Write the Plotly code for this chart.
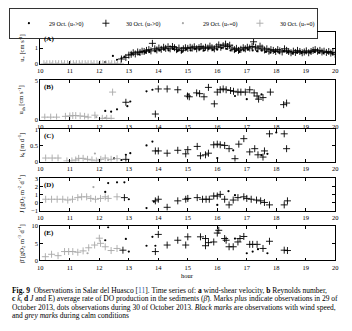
import plotly.graph_objects as go

W, H = 352, 331
FONT = "Liberation Serif"
BLACK = "#000000"
GREY = "#a8a8a8"

# ---------------- data (hour, value) ----------------
# Panel A : u* [cm s^-1]
A_dot_hr = [12.2, 12.46, 12.6, 12.75, 12.85, 13.1, 13.35, 13.55, 13.7, 13.9, 14.05, 14.2, 14.35, 14.5, 14.65, 14.8, 14.95,
            15.1, 15.25, 15.4, 15.55, 15.7, 15.85, 16.0, 16.15, 16.3, 16.45, 16.6, 16.75, 16.9, 17.05, 17.2, 17.35,
            17.5, 17.65, 17.8, 17.95, 18.1, 18.25, 18.4, 18.55, 18.7, 18.85, 19.0, 19.15, 19.3, 19.45, 19.6, 19.75, 19.9]
A_dot_val = [0.1, 0.5, 0.25, 0.35, 0.45, 0.65, 0.6, 0.7, 0.75, 0.8, 0.85, 0.9, 0.85, 0.95, 0.8, 0.75, 0.9,
             0.85, 0.95, 0.9, 0.85, 0.95, 0.88, 0.9, 1.0, 0.95, 0.85, 0.8, 0.75, 0.85, 0.9, 0.85, 0.8,
             0.85, 0.75, 0.7, 0.75, 0.7, 0.8, 0.72, 0.65, 0.7, 0.68, 0.72, 0.7, 0.75, 0.7, 0.68, 0.7, 0.65]
A_plus_hr = [12.75, 12.9, 13.0, 13.08, 13.15, 13.22, 13.3, 13.38, 13.45, 13.52, 13.6, 13.68, 13.75, 13.8, 13.88, 13.95,
             14.02, 14.1, 14.18, 14.25, 14.33, 14.4, 14.48, 14.55, 14.62, 14.7, 14.78, 14.85, 14.92, 15.0, 15.08,
             15.15, 15.22, 15.3, 15.38, 15.45, 15.52, 15.6, 15.68, 15.75, 15.82, 15.9, 15.98, 16.05, 16.12, 16.2,
             16.28, 16.35, 16.42, 16.5, 16.58, 16.65, 16.72, 16.8, 16.88, 16.95, 17.02, 17.1, 17.18, 17.23, 17.3,
             17.38, 17.45, 17.52, 17.6, 17.68, 17.75, 17.82, 17.9, 17.98, 18.05, 18.12, 18.2, 18.28, 18.35, 18.42,
             18.5, 18.58, 18.65, 18.72, 18.8, 18.88, 18.95, 19.02, 19.1, 19.18, 19.25, 19.32, 19.4, 19.48, 19.55,
             19.62, 19.7, 19.78, 19.85, 19.92, 20.0]
A_plus_val = [0.3, 0.4, 0.55, 0.6, 0.7, 0.62, 0.75, 0.72, 0.8, 0.78, 0.85, 0.9, 0.82, 1.3, 0.95, 0.88,
              1.0, 0.92, 1.05, 0.98, 1.08, 0.95, 1.1, 1.02, 0.9, 1.0, 0.85, 0.95, 1.02, 0.98, 1.05,
              1.0, 1.08, 0.95, 1.02, 1.1, 0.98, 1.05, 1.0, 1.12, 1.02, 0.95, 1.08, 1.2, 1.05, 1.15,
              1.25, 1.1, 1.18, 1.0, 0.9, 0.98, 0.85, 0.92, 1.02, 0.95, 1.05, 1.0, 1.1, 1.4, 1.05,
              0.95, 1.12, 1.0, 0.88, 0.95, 0.8, 0.9, 0.85, 0.78, 0.9, 0.82, 0.75, 0.95, 0.85, 0.78,
              0.7, 0.8, 0.72, 0.85, 0.78, 0.7, 0.75, 0.82, 0.7, 0.78, 0.85, 0.9, 0.8, 0.85, 0.75,
              0.8, 0.72, 0.78, 0.68, 0.72, 0.6]
A_gdot_hr = [10.17, 10.37, 10.57, 10.77, 10.97, 11.17, 11.37, 11.57, 11.77, 11.97, 12.17, 12.37, 12.57]
A_gdot_val = [0, 0, 0, 0, 0, 0, 0, 0, 0, 0, 0, 0, 0]
A_gplus_hr = [10.12, 10.22, 10.32, 10.42, 10.52, 10.62, 10.72, 10.82, 10.92, 11.02, 11.12, 11.22, 11.32, 11.42,
              11.52, 11.62, 11.72, 11.82, 11.92, 12.02, 12.12, 12.22, 12.32, 12.42, 12.52, 12.62, 12.72]
A_gplus_val = [0, 0, 0, 0, 0, 0, 0, 0, 0, 0, 0, 0, 0, 0, 0, 0, 0, 0, 0, 0, 0, 0, 0, 0, 0, 0, 0]

# Panel B : u_sh [cm s^-1]
B_dot_hr = [12.2, 12.4, 12.6, 12.95, 13.05, 13.6, 13.8, 15.0, 16.6, 17.0, 17.5]
B_dot_val = [1.1, 1.0, 1.3, 1.7, 2.3, 3.6, 3.8, 3.2, 3.0, 2.6, 3.2]
B_plus_hr = [12.9, 13.9, 14.0, 14.3, 14.66, 14.99, 15.05, 15.3, 15.4, 15.55, 15.7, 15.9, 16.0, 16.1, 16.2, 16.3,
             16.45, 16.55, 16.7, 16.8, 16.95, 17.1, 17.25, 17.35, 17.4, 17.55, 17.8, 18.25, 18.35]
B_plus_val = [2.2, 0.7, 3.9, 3.9, 3.8, 3.0, 2.9, 3.4, 3.3, 2.9, 4.1, 2.0, 3.5, 3.8, 3.9, 3.8,
              3.7, 3.6, 3.5, 3.5, 3.5, 3.8, 3.4, 3.0, 2.6, 2.8, 3.5, 1.9, 2.1]
B_gdot_hr = [11.9, 12.2]
B_gdot_val = [0.3, 0.2]
B_gplus_hr = [10.15, 10.35, 10.55, 10.85, 11.0, 11.1, 11.2, 11.35, 11.5, 11.62, 11.85, 12.1, 12.25, 12.4, 12.45]
B_gplus_val = [0.3, 0.3, 0.3, 0.4, 0.45, 0.5, 0.5, 0.45, 0.4, 0.3, 0.55, 0.15, 0.15, 0.15, 3.5]

# Panel C : k_t [m d^-1]
C_dot_hr = [12.5, 12.75, 12.9, 13.05, 13.6, 13.8, 16.0, 16.54, 17.5, 17.7, 18.0]
C_dot_val = [0.1, 0.05, 0.21, 0.26, 0.5, 0.62, 0.11, 0.35, 0.2, 0.24, 0.9]
C_plus_hr = [12.9, 13.9, 14.0, 14.3, 14.66, 14.93, 15.0, 15.32, 15.43, 15.6, 15.7, 15.88, 16.0, 16.1, 16.25,
             16.4, 16.6, 16.73, 16.9, 17.1, 17.27, 17.38, 17.55, 17.6, 17.77, 18.27, 18.35]
C_plus_val = [0.07, 0.33, 0.33, 0.26, 0.35, 0.24, 0.37, 0.47, 0.18, 0.21, 0.26, 0.52, 0.54, 0.52, 0.5,
              0.4, 0.09, 0.54, 0.71, 0.3, 0.4, 0.21, 0.14, 0.33, 0.86, 0.86, 0.4]
C_gdot_hr = [11.85, 12.3]
C_gdot_val = [0.25, 0.05]
C_gplus_hr = [10.18, 10.4, 10.6, 10.9, 11.07, 11.2, 11.3, 11.45, 11.6, 11.75, 11.9, 12.05, 12.2, 12.4, 12.6]
C_gplus_val = [0.11, 0.11, 0.11, 0.02, 0.02, 0.05, 0.1, 0.1, 0.07, 0.05, 0.02, 0.07, 0.11, 0.07, 0.09]

# Panel D : J [gO2 m^-2 d^-1]
D_dot_hr = [12.2, 12.3, 12.6, 12.85, 13.0, 13.6, 13.85, 16.0, 16.38, 16.6]
D_dot_val = [1.3, 2.4, 2.5, 2.5, 0.4, -0.7, 0.1, -0.3, 1.4, 0.9]
D_plus_hr = [12.85, 13.9, 14.0, 14.3, 14.66, 14.93, 15.0, 15.32, 15.5, 15.62, 15.73, 15.88, 16.0, 16.1, 16.25,
             16.4, 16.54, 16.7, 16.9, 17.0, 17.15, 17.33, 17.47, 17.6, 17.77, 18.27, 18.38]
D_plus_val = [0.6, 0.2, 0.4, -0.6, 0.2, 0.4, 0.5, 0.6, 0.4, 0.4, 0.4, 0.8, 0.8, 1.0, 0.4,
              -0.3, 0.3, 0.6, 0.7, 0.5, 0.4, 0.3, 0.2, 0.0, -0.3, -0.3, 0.2]
D_gdot_hr = [11.8]
D_gdot_val = [1.9]
D_gplus_hr = [10.18, 10.38, 10.57, 10.76, 10.93, 11.09, 11.27, 11.4, 11.57, 11.71, 11.87, 12.04, 12.2, 12.3, 12.6]
D_gplus_val = [0.4, 0.4, 0.4, 0.4, 0.3, 0.4, 0.6, 0.7, 0.7, 0.5, 0.4, 0.5, 0.7, 0.5, 0.7]

# Panel E : beta [gO2 m^-3 d^-1]
E_dot_hr = [12.2, 12.3, 12.9, 13.0, 13.6, 13.8, 13.9, 16.6, 17.0, 17.2, 17.38, 17.7]
E_dot_val = [5.9, 9.7, 6.3, 2.6, 4.3, 6.9, 4.3, 6.4, 2.1, 2.6, 3.3, 2.1]
E_plus_hr = [12.8, 13.9, 14.0, 14.3, 14.66, 14.93, 15.0, 15.43, 15.6, 15.6, 15.7, 15.88, 16.0, 16.05, 16.25,
             16.3, 16.4, 16.54, 16.7, 16.77, 16.9, 17.1, 17.2, 17.35, 17.55, 17.77, 18.27, 18.38]
E_plus_val = [3.0, 2.6, 7.6, 4.5, 5.9, 4.5, 6.9, 6.9, 6.4, 4.3, 5.2, 5.4, 8.0, 8.8, 6.4,
              5.9, 4.0, 4.0, 5.4, 6.4, 7.0, 4.7, 4.7, 4.7, 3.5, 5.6, 3.0, 2.9]
E_gdot_hr = [11.6]
E_gdot_val = [2.1]
E_gplus_hr = [10.17, 10.38, 10.6, 10.82, 10.96, 11.1, 11.27, 11.45, 11.64, 11.84, 12.0, 12.04, 12.2, 12.4, 12.6]
E_gplus_val = [1.1, 1.8, 1.4, 2.6, 2.6, 2.6, 2.4, 2.8, 3.7, 4.5, 6.5, 5.0, 4.0, 2.9, 3.5]

x_ticks = [10, 11, 12, 13, 14, 15, 16, 17, 18, 19, 20]
series_names = ["29 Oct. (u<sub>*</sub>&gt;0)", "30 Oct. (u<sub>*</sub>&gt;0)",
                "29 Oct. (u<sub>*</sub>=0)", "30 Oct. (u<sub>*</sub>=0)"]
panel_letters = ["(A)", "(B)", "(C)", "(D)", "(E)"]
y_titles = ["u<sub>*</sub> [cm s<sup>-1</sup>]",
            "u<sub>sh</sub> [cm s<sup>-1</sup>]",
            "k<sub>t</sub> [m d<sup>-1</sup>]",
            "J [gO<sub>2</sub> m<sup>-2</sup> d<sup>-1</sup>]",
            "β̄ [gO<sub>2</sub> m<sup>-3</sup> d<sup>-1</sup>]"]
y_ranges = [[0, 2], [0, 5], [0, 1], [-1, 3], [0, 10]]
y_tickvals = [[0, 1, 2], [0, 5], [0, 0.5, 1], [-1, 0, 1, 2, 3], [0, 5, 10]]

panels = [
    [(A_dot_hr, A_dot_val), (A_plus_hr, A_plus_val), (A_gdot_hr, A_gdot_val), (A_gplus_hr, A_gplus_val)],
    [(B_dot_hr, B_dot_val), (B_plus_hr, B_plus_val), (B_gdot_hr, B_gdot_val), (B_gplus_hr, B_gplus_val)],
    [(C_dot_hr, C_dot_val), (C_plus_hr, C_plus_val), (C_gdot_hr, C_gdot_val), (C_gplus_hr, C_gplus_val)],
    [(D_dot_hr, D_dot_val), (D_plus_hr, D_plus_val), (D_gdot_hr, D_gdot_val), (D_gplus_hr, D_gplus_val)],
    [(E_dot_hr, E_dot_val), (E_plus_hr, E_plus_val), (E_gdot_hr, E_gdot_val), (E_gplus_hr, E_gplus_val)],
]

# ---------------- styles ----------------
styles = [
    dict(symbol="circle", size=2.2, color=BLACK, line=dict(width=0)),
    dict(symbol="cross-thin", size=5, color=BLACK, line=dict(width=0.9, color=BLACK)),
    dict(symbol="circle", size=2.2, color=GREY, line=dict(width=0)),
    dict(symbol="cross-thin", size=5, color=GREY, line=dict(width=0.9, color=GREY)),
]

panel_px = [(29, 61), (78, 118), (128, 161), (178, 211), (227, 262)]
x_left, x_right = 38, 338

fig = go.Figure()
layout = dict(
    width=W, height=H, margin=dict(l=0, r=0, t=0, b=0),
    paper_bgcolor="white", plot_bgcolor="white",
    font=dict(family=FONT, size=6.5, color=BLACK),
    showlegend=True,
    legend=dict(orientation="h", x=6 / W, y=1 - 4 / H, xanchor="left", yanchor="top",
                bordercolor=BLACK, borderwidth=0.8, bgcolor="white",
                font=dict(family=FONT, size=6, color=BLACK),
                itemwidth=30, entrywidth=32, tracegroupgap=0, itemsizing="trace"),
)
annotations = []

for i, series in enumerate(panels):
    k = "" if i == 0 else str(i + 1)
    top, bot = panel_px[i]
    for j, (xs, ys) in enumerate(series):
        fig.add_trace(go.Scatter(
            x=xs, y=ys, mode="markers", marker=styles[j], name=series_names[j],
            showlegend=(i == 0), legendgroup=str(j),
            xaxis="x" + k, yaxis="y" + k, hoverinfo="skip"))
    axis_common = dict(showline=True, linecolor=BLACK, linewidth=0.9, mirror="ticks",
                       ticks="inside", ticklen=3, tickwidth=0.8, tickcolor=BLACK,
                       showgrid=False, zeroline=False,
                       tickfont=dict(family=FONT, size=6.5, color=BLACK))
    layout["xaxis" + k] = dict(axis_common, domain=[x_left / W, x_right / W], range=[10, 20],
                               tickvals=x_ticks, anchor="y" + k, ticklabelstandoff=1)
    layout["yaxis" + k] = dict(axis_common, domain=[1 - bot / H, 1 - top / H], range=y_ranges[i],
                               tickvals=y_tickvals[i], anchor="x" + k)
    annotations.append(dict(text="<b>" + panel_letters[i] + "</b>", xref="x" + k + " domain",
                            yref="y" + k + " domain", x=0.005, y=0.98, xanchor="left", yanchor="top",
                            showarrow=False, font=dict(family=FONT, size=7, color=BLACK)))
    annotations.append(dict(text=y_titles[i], xref="paper", yref="paper", x=19 / W,
                            y=1 - (top + bot) / 2 / H, textangle=-90, xanchor="center", yanchor="middle",
                            showarrow=False, font=dict(family=FONT, size=6.5, color=BLACK)))

annotations.append(dict(text="hour", xref="paper", yref="paper", x=188 / W, y=1 - 277 / H,
                        xanchor="center", yanchor="middle", showarrow=False,
                        font=dict(family=FONT, size=6.5, color=BLACK)))

caption = [
    "<b>Fig. 9</b>  Observations in Salar del Huasco [<span style='color:#2a5caa'>11</span>]. Time series of: <b>a</b> wind-shear velocity, <b>b</b> Reynolds number,",
    "<b>c</b> <i>k</i><sub>t</sub> <b>d</b> <i>J</i> and E) average rate of DO production in the sediments (<i>β̄</i>). Marks <i>plus</i> indicate observations in 29 of",
    "October 2013, dots observations during 30 of October 2013. <i>Black marks</i> are observations with wind speed,",
    "and <i>grey marks</i> during calm conditions",
]
cap_y = [292.5, 301.3, 310, 318.7]
for line, yy in zip(caption, cap_y):
    annotations.append(dict(text=line, xref="paper", yref="paper", x=7 / W, y=1 - yy / H,
                            xanchor="left", yanchor="middle", showarrow=False,
                            font=dict(family=FONT, size=7.5, color=BLACK)))

layout["annotations"] = annotations
fig.update_layout(**layout)
fig.write_html("out.html")
